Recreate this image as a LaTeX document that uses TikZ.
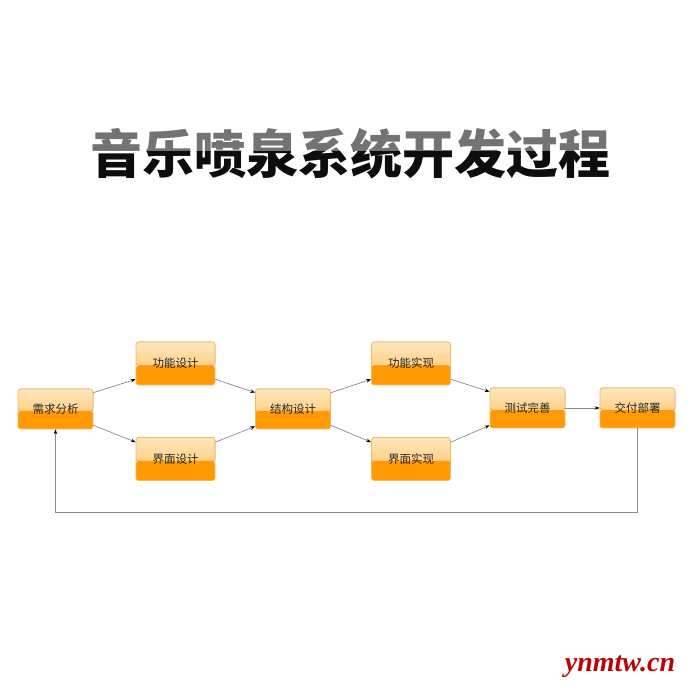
\documentclass[tikz,border=0pt]{standalone}
\usepackage{fontspec}
\newfontfamily\cjk{Noto Sans CJK SC}
\newfontfamily\wmfont{Liberation Serif}
\usetikzlibrary{arrows.meta}
\definecolor{boxlight}{HTML}{FFE6BC}
\definecolor{boxmid}{HTML}{FFC062}
\definecolor{boxorange}{HTML}{FF9A05}
\definecolor{boxedge}{HTML}{F5B860}
\definecolor{flowgray}{HTML}{8A8A8A}
\tikzset{
  stage/.style={draw=boxedge, line width=0.6pt, rounded corners=2.5pt,
    minimum width=75pt, minimum height=40pt, inner sep=0pt,
    font=\cjk\fontsize{11.5}{12}\selectfont, text=black!85,
    path picture={
      \fill[top color=boxlight, bottom color=boxmid]
        (path picture bounding box.north west) rectangle ([yshift=-2pt]path picture bounding box.east);
      \fill[boxorange]
        ([yshift=-2pt]path picture bounding box.west) rectangle (path picture bounding box.south east);
    }},
  tallstage/.style={stage, minimum width=79pt, minimum height=43pt},
  flow/.style={draw=flowgray, line width=0.7pt, -{Stealth[length=5pt,width=3.5pt,black]}}
}
\begin{document}
\begin{tikzpicture}[x=1pt,y=1pt]
  \useasboundingbox (0,0) rectangle (700,700);
  % title, grey above and black below
  \begin{scope}
    \clip (0,548) rectangle (700,620);
    \node[font=\cjk\bfseries\fontsize{52}{56}\selectfont, text=black!55] (title) at (350,546) {音乐喷泉系统开发过程};
  \end{scope}
  \begin{scope}
    \clip (0,480) rectangle (700,548);
    \node[font=\cjk\bfseries\fontsize{52}{56}\selectfont, text=black!95] (titlelow) at (350,546) {音乐喷泉系统开发过程};
  \end{scope}
  % stages
  \node[stage] (req) at (55.5,291) {需求分析};
  \node[tallstage] (fdesign) at (175.5,336.5) {功能设计};
  \node[tallstage] (udesign) at (175.5,241) {界面设计};
  \node[stage] (sdesign) at (293,291) {结构设计};
  \node[tallstage] (fimpl) at (411,336.5) {功能实现};
  \node[tallstage] (uimpl) at (411,241) {界面实现};
  \node[stage] (test) at (527.5,292) {测试完善};
  \node[stage] (deliver) at (637.5,292) {交付部署};
  % connectors
  \draw[flow] ([yshift=-4]req.north east) -- ([yshift=6]fdesign.south west);
  \draw[flow] ([yshift=4]req.south east) -- ([yshift=-5]udesign.north west);
  \draw[flow] ([yshift=6]fdesign.south east) -- ([yshift=-4]sdesign.north west);
  \draw[flow] ([yshift=-5]udesign.north east) -- ([yshift=3]sdesign.south west);
  \draw[flow] ([yshift=-4]sdesign.north east) -- ([yshift=6]fimpl.south west);
  \draw[flow] ([yshift=4]sdesign.south east) -- ([yshift=-5]uimpl.north west);
  \draw[flow] ([yshift=6]fimpl.south east) -- ([yshift=-4]test.north west);
  \draw[flow] ([yshift=-5]uimpl.north east) -- ([yshift=3]test.south west);
  \draw[flow] (test) -- (deliver);
  \draw[flow] (deliver.south) -- ++(0,-84) -| (req.south);
  % watermark
  \node[font=\wmfont\bfseries\itshape\fontsize{28}{30}\selectfont, text=red!75!black] (mark) at (620,33) {ynmtw.cn};
\end{tikzpicture}
\end{document}
